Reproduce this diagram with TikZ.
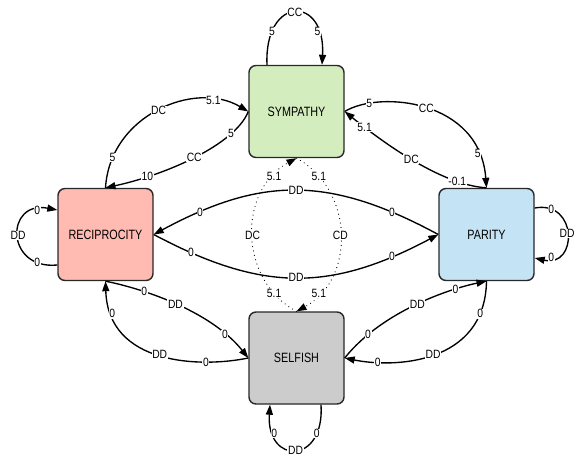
\documentclass[tikz,border=0pt]{standalone}
\usepackage{fontspec}
\setmainfont{Liberation Sans}
\newfontfamily\boxfont[FakeStretch=0.8]{Liberation Sans}
\newfontfamily\labfont[FakeStretch=0.86]{Liberation Sans}
\usetikzlibrary{arrows.meta,calc}
\definecolor{symfill}{RGB}{212,237,190}
\definecolor{recfill}{RGB}{255,186,178}
\definecolor{parfill}{RGB}{196,227,245}
\definecolor{slffill}{RGB}{204,204,204}
\definecolor{boxline}{RGB}{40,40,40}
\begin{document}
\begin{tikzpicture}[x=1pt,y=-1pt,
  state/.style={draw=boxline, line width=1.4pt, rounded corners=7pt,
    minimum width=95pt, minimum height=92pt, inner sep=0pt,
    font=\boxfont\fontsize{13.5}{13.5}\selectfont},
  edge/.style={line width=1.35pt, -{Triangle[length=10pt,width=7pt]}},
  lab/.style={fill=white, inner sep=0.6pt, font=\labfont\fontsize{12}{12}\selectfont},
  dots/.style={edge, line width=1.2pt, dash pattern=on 0.01pt off 4.5pt, line cap=round}
]
\useasboundingbox (0,0) rectangle (578,461);

\node[state, fill=symfill] (sym) at (296.5,111.5) {SYMPATHY};
\node[state, fill=recfill] (rec) at (105.5,234.5) {RECIPROCITY};
\node[state, fill=parfill] (par) at (486.5,234.5) {PARITY};
\node[state, fill=slffill] (slf) at (296.5,358) {SELFISH};

% Reciprocity <-> Sympathy
\draw[edge] (rec.north) .. controls (110,115) and (195,80) .. (sym.west)
  node[lab,pos=0.15]{5} node[lab,pos=0.5]{DC} node[lab,pos=0.8]{5.1};
\draw[edge] (sym.west) .. controls (235,145) and (165,175) .. (rec.north)
  node[lab,pos=0.23]{5} node[lab,pos=0.5]{CC} node[lab,pos=0.77]{10};

% Sympathy <-> Parity
\draw[edge] (sym.east) .. controls (380,90) and (480,100) .. (par.north)
  node[lab,pos=0.18]{5} node[lab,pos=0.5]{CC} node[lab,pos=0.85]{5};
\draw[edge] (par.north) .. controls (440,185) and (380,140) .. (sym.east)
  node[lab,pos=0.2]{-0.1} node[lab,pos=0.5]{DC} node[lab,pos=0.83]{5.1};

% Reciprocity <-> Parity
\draw[edge] (par.west) .. controls (330,176) and (262,176) .. (rec.east)
  node[lab,pos=0.15]{0} node[lab,pos=0.5]{DD} node[lab,pos=0.85]{0};
\draw[edge] (rec.east) .. controls (262,292) and (330,292) .. (par.west)
  node[lab,pos=0.12]{0} node[lab,pos=0.5]{DD} node[lab,pos=0.85]{0};

% Sympathy <-> Selfish (dotted)
\draw[dots] (slf.north) .. controls (238,280) and (238,190) .. (sym.south)
  node[lab,pos=0.15]{5.1} node[lab,pos=0.5]{DC} node[lab,pos=0.85]{5.1};
\draw[dots] (sym.south) .. controls (355,190) and (355,280) .. (slf.north)
  node[lab,pos=0.15]{5.1} node[lab,pos=0.5]{CD} node[lab,pos=0.85]{5.1};

% Reciprocity <-> Selfish
\draw[edge] (rec.south) .. controls (140,288) and (210,310) .. (slf.west)
  node[lab,pos=0.3]{0} node[lab,pos=0.5]{DD} node[lab,pos=0.82]{0};
\draw[edge] (slf.west) .. controls (200,368) and (108,365) .. (rec.south)
  node[lab,pos=0.25]{0} node[lab,pos=0.5]{DD} node[lab,pos=0.85]{0};

% Parity <-> Selfish
\draw[edge] (slf.east) .. controls (383,310) and (453,288) .. (par.south)
  node[lab,pos=0.18]{0} node[lab,pos=0.5]{DD} node[lab,pos=0.75]{0};
\draw[edge] (par.south) .. controls (485,365) and (393,368) .. (slf.east)
  node[lab,pos=0.15]{0} node[lab,pos=0.5]{DD} node[lab,pos=0.8]{0};

% Self loops
\draw[edge] ($(sym.north)+(-29.5,0)$) .. controls (264,-5) and (326,-5) .. ($(sym.north)+(25.5,0)$)
  node[lab,pos=0.2]{5} node[lab,pos=0.5]{CC} node[lab,pos=0.8]{5};
\draw[edge] ($(rec.west)+(0,30.5)$) .. controls (5,270) and (5,200) .. ($(rec.west)+(0,-24.5)$)
  node[lab,pos=0.15]{0} node[lab,pos=0.5]{DD} node[lab,pos=0.85]{0};
\draw[edge] ($(par.east)+(0,-26.5)$) .. controls (578,200) and (578,268) .. ($(par.east)+(0,23.5)$)
  node[lab,pos=0.15]{0} node[lab,pos=0.5]{DD} node[lab,pos=0.85]{0};
\draw[edge] ($(slf.south)+(24.5,0)$) .. controls (325,465) and (266,465) .. ($(slf.south)+(-26.5,0)$)
  node[lab,pos=0.2]{0} node[lab,pos=0.5]{DD} node[lab,pos=0.8]{0};
\end{tikzpicture}
\end{document}
